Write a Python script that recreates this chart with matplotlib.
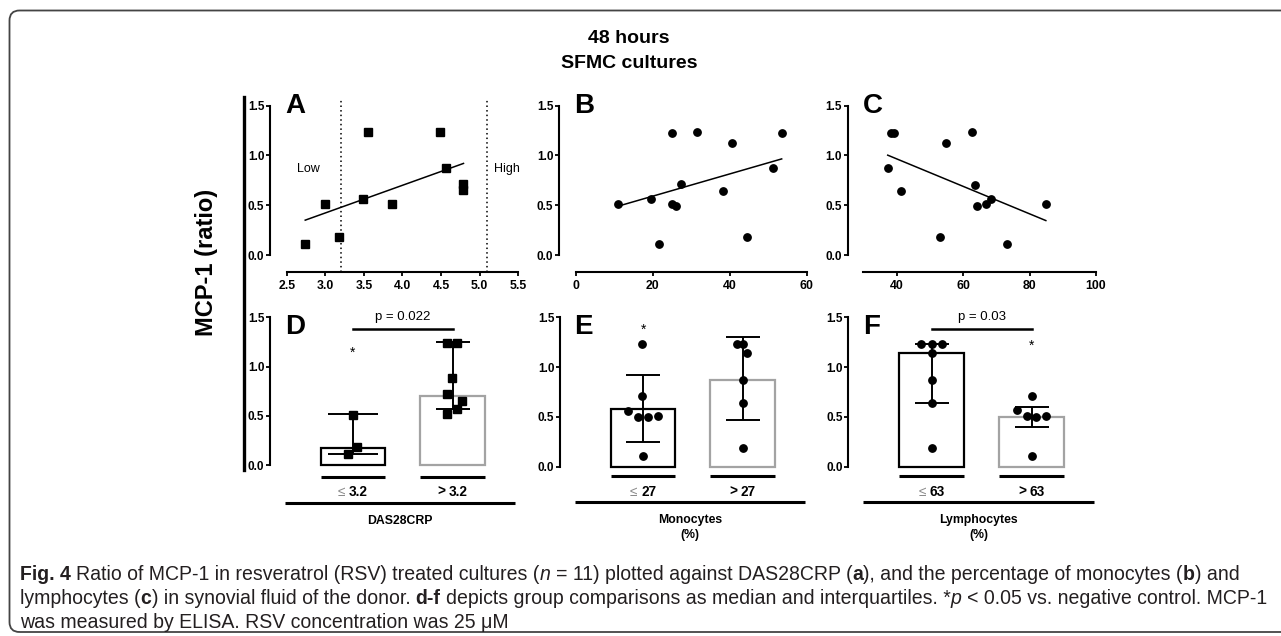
import numpy as np
import matplotlib
matplotlib.use("Agg")
import matplotlib.pyplot as plt
from matplotlib.patches import FancyBboxPatch
from matplotlib.transforms import IdentityTransform

plt.rcParams["font.family"] = ["Liberation Sans", "DejaVu Sans"]

# ---- data --------------------------------------------------------------
das_x = [2.74, 3.00, 3.18, 3.49, 3.55, 3.87, 4.48, 4.56, 4.79, 4.79]
das_y = [0.11, 0.51, 0.18, 0.56, 1.235, 0.51, 1.235, 0.873, 0.71, 0.65]

mono_x = [10.9, 19.6, 21.6, 25.0, 25.0, 26.1, 27.3, 31.4, 38.2, 40.7, 44.4, 51.3, 53.5]
mono_y = [0.51, 0.56, 0.11, 1.23, 0.51, 0.495, 0.71, 1.24, 0.64, 1.13, 0.18, 0.87, 1.23]

lymph_x = [37.3, 38.4, 39.3, 41.4, 53.0, 54.8, 62.8, 63.7, 64.1, 66.8, 68.4, 73.2, 84.9]
lymph_y = [0.87, 1.23, 1.23, 0.64, 0.18, 1.13, 1.235, 0.706, 0.495, 0.51, 0.56, 0.11, 0.51]

das_cut = [3.2, 5.1]

group_labels = {
    "D": ["≤ 3.2", "> 3.2"],
    "E": ["≤ 27", "> 27"],
    "F": ["≤ 63", "> 63"],
}
group_titles = {"D": "DAS28CRP", "E": "Monocytes\n(%)", "F": "Lymphocytes\n(%)"}

d_low = [0.51, 0.186, 0.107]
d_low_dx = [0.0, 0.044, -0.05]
d_high = [1.24, 1.24, 0.88, 0.72, 0.65, 0.566, 0.515]
d_high_dx = [-0.055, 0.045, -0.008, -0.055, 0.092, 0.045, -0.055]
d_median = [0.175, 0.70]
d_q1 = [0.109, 0.566]
d_q3 = [0.515, 1.247]

e_low = [1.232, 0.707, 0.559, 0.502, 0.496, 0.51, 0.104]
e_low_dx = [-0.009, -0.009, -0.153, -0.052, 0.051, 0.152, -0.002]
e_high = [1.235, 1.235, 1.14, 0.87, 0.64, 0.185]
e_high_dx = [-0.058, 0.0, 0.048, 0.0, 0.0, 0.0]
e_median = [0.58, 0.874]
e_q1 = [0.248, 0.47]
e_q3 = [0.924, 1.30]

f_low = [1.235, 1.235, 1.235, 1.14, 0.87, 0.64, 0.185]
f_low_dx = [-0.107, 0.0, 0.103, 0.0, 0.0, 0.0, 0.0]
f_high = [0.707, 0.57, 0.51, 0.496, 0.51, 0.107]
f_high_dx = [0.0, -0.148, -0.048, 0.048, 0.148, 0.0]
f_median = [1.138, 0.502]
f_q1 = [0.64, 0.40]
f_q3 = [1.235, 0.60]

# ---- figure -------------------------------------------------------------
W, H = 1281, 636
fig = plt.figure(figsize=(W / 100, H / 100), dpi=100)
renderer = fig.canvas.get_renderer()
ID = IdentityTransform()


def make_ax(box, xref, yref):
    x0, x1, ytop, ybot = box
    ax = fig.add_axes([x0 / W, 1 - ybot / H, (x1 - x0) / W, (ybot - ytop) / H])
    (px1, v1), (px2, v2) = xref
    sx = (v2 - v1) / (px2 - px1)
    ax.set_xlim(v1 + (x0 - px1) * sx, v1 + (x1 - px1) * sx)
    (py1, w1), (py2, w2) = yref
    sy = (w2 - w1) / (py2 - py1)
    ax.set_ylim(w1 + (ybot - py1) * sy, w1 + (ytop - py1) * sy)
    ax.patch.set_visible(False)
    for s in ["top", "right"]:
        ax.spines[s].set_visible(False)
    ax.spines["left"].set_linewidth(1.5)
    ax.spines["bottom"].set_linewidth(1.5)
    ax.spines["left"].set_bounds(0, 1.5)
    ax.set_yticks([0, 0.5, 1.0, 1.5])
    ax.set_yticklabels(["0.0", "0.5", "1.0", "1.5"])
    ax.tick_params(axis="y", length=3, width=1.3, pad=1, labelsize=8.5)
    for lab in ax.get_yticklabels():
        lab.set_fontweight("bold")
    return ax


def px_text(x, y, s, **kw):
    return fig.text(x, H - y, s, transform=ID, **kw)


def draw_runs(x, y, runs, size, family, ha="left"):
    probe1 = fig.text(0, 0, "a a", fontsize=size, family=family, transform=ID)
    probe2 = fig.text(0, 0, "aa", fontsize=size, family=family, transform=ID)
    sp = probe1.get_window_extent(renderer).width - probe2.get_window_extent(renderer).width
    probe1.remove()
    probe2.remove()
    items = []
    for s, kw in runs:
        lead = len(s) - len(s.lstrip(" "))
        trail = len(s) - len(s.rstrip(" "))
        t = fig.text(0, 0, s.strip(" "), fontsize=size, family=family,
                     transform=ID, va="baseline", ha="left", **kw)
        w = t.get_window_extent(renderer).width
        items.append((lead, t, w, trail))
    total = sum(l * sp + w + r * sp for l, t, w, r in items)
    cur = x if ha == "left" else x - total / 2
    for lead, t, w, trail in items:
        cur += lead * sp
        t.set_position((cur, H - y))
        cur += w + trail * sp
    return total, [it[1] for it in items]


# ---- frame and titles ---------------------------------------------------
fig.add_artist(FancyBboxPatch((9.5, 4), 1320, H - 14.5, transform=ID,
                              boxstyle="round,pad=0,rounding_size=10",
                              fc="none", ec="#444444", lw=1.3))
px_text(628.8, 42.7, "48 hours", ha="center", va="baseline", fontsize=14, weight="bold")
px_text(628.8, 68.3, "SFMC cultures", ha="center", va="baseline", fontsize=14, weight="bold")
px_text(206, 262, "MCP-1 (ratio)", rotation=90, ha="center", va="center",
        fontsize=17, weight="bold")
fig.add_artist(plt.Line2D([244, 244], [H - 97, H - 470], transform=ID, color="k", lw=2.4))

# ---- top row: scatter with regression -----------------------------------
yref_top = [(255, 0.0), (105.7, 1.5)]
scatter_specs = [
    ("A", das_x, das_y, "s", (270, 522), [(286.7, 2.5), (518.3, 5.5)], (2.5, 5.5),
     [2.5, 3.0, 3.5, 4.0, 4.5, 5.0, 5.5], ["2.5", "3.0", "3.5", "4.0", "4.5", "5.0", "5.5"]),
    ("B", mono_x, mono_y, "o", (559, 810), [(575.7, 0), (806.7, 60)], (0, 60),
     [0, 20, 40, 60], ["0", "20", "40", "60"]),
    ("C", lymph_x, lymph_y, "o", (847.7, 1100), [(896.7, 40), (1096, 100)], (30, 100),
     [40, 60, 80, 100], ["40", "60", "80", "100"]),
]
letter_x = {"A": 285, "B": 574, "C": 862.7, "D": 285, "E": 574, "F": 862.7}

for name, xs, ys, mk, (x0, x1), xref, xb, xt, xtl in scatter_specs:
    ax = make_ax((x0, x1, 98, 271.7), xref, yref_top)
    ax.spines["bottom"].set_bounds(*xb)
    ax.set_xticks(xt)
    ax.set_xticklabels(xtl)
    ax.tick_params(axis="x", length=3, width=1.3, pad=3, labelsize=8.8)
    for lab in ax.get_xticklabels():
        lab.set_fontweight("bold")
    ax.plot(xs, ys, mk, ms=5.3, color="k", clip_on=False, zorder=3)
    k, b = np.polyfit(xs, ys, 1)
    xl = np.array([min(xs), max(xs)])
    ax.plot(xl, k * xl + b, color="k", lw=1.1)
    if name == "A":
        for c in das_cut:
            ax.axvline(c, ymin=0, ymax=1, color="k", lw=1.1, ls=(0, (1, 2)))
        ax.text(2.63, 0.836, "Low", fontsize=9, va="baseline", ha="left")
        ax.text(5.19, 0.836, "High", fontsize=9, va="baseline", ha="left")
    px_text(letter_x[name], 93, name, fontsize=20, weight="bold", va="top", ha="left")

# ---- bottom row: median + IQR bars --------------------------------------
bar_specs = [
    ("D", "s", 270, [(352.9, 0), (452.5, 1)], [(465, 0.0), (317.3, 1.5)],
     [d_low, d_high], [d_low_dx, d_high_dx], d_median, d_q1, d_q3, [18, 12],
     477.3, 502.7, "p = 0.022", [(0, 1.18)]),
    ("E", "o", 560, [(643.2, 0), (742.5, 1)], [(466.7, 0.0), (317.3, 1.5)],
     [e_low, e_high], [e_low_dx, e_high_dx], e_median, e_q1, e_q3, [12, 12],
     475.7, 501.7, None, [(0, 1.41)]),
    ("F", "o", 848.3, [(931.7, 0), (1031.5, 1)], [(466.7, 0.0), (317.3, 1.5)],
     [f_low, f_high], [f_low_dx, f_high_dx], f_median, f_q1, f_q3, [12, 12],
     475.7, 501.7, "p = 0.03", [(1, 1.25)]),
]
edge_cols = ["k", "#a3a3a3"]
bw = 0.65

for (name, mk, x0, xref, yref, pts, dxs, med, q1, q3, caps,
     under_px, group_px, ptxt, stars) in bar_specs:
    ax = make_ax((x0, x0 + 252, 305, 515), xref, yref)
    ax.spines["bottom"].set_visible(False)
    ax.set_xticks([])
    sy = (yref[1][1] - yref[0][1]) / (yref[1][0] - yref[0][0])
    to_y = lambda p: yref[0][1] + (p - yref[0][0]) * sy
    for i in range(2):
        ax.bar(i, med[i], width=bw, fc="white", ec=edge_cols[i], lw=1.6, zorder=1)
        ax.errorbar(i, med[i], yerr=[[med[i] - q1[i]], [q3[i] - med[i]]], fmt="none",
                    ecolor="k", elinewidth=1.4, capsize=caps[i], capthick=1.4, zorder=2)
        ax.plot(np.array(dxs[i]) + i, pts[i], mk, ms=5.3, color="k", zorder=3, clip_on=False)
        ax.plot([i - bw / 2, i + bw / 2], [to_y(under_px)] * 2, color="k", lw=2.2,
                clip_on=False, solid_capstyle="butt")
        cx = xref[0][0] + i * (xref[1][0] - xref[0][0])
        lo, hi = group_labels[name][i].split(" ")
        sym_style = (dict(color="#8a8a8a") if lo == "≤"
                     else dict(weight="bold", color="k"))
        draw_runs(cx, 495.5, [(lo + " ", sym_style),
                              (hi, dict(weight="bold", color="k"))],
                  9.8, ["Liberation Sans", "DejaVu Sans"], ha="center")
    ax.plot([-0.685, 1.63], [to_y(group_px)] * 2, color="k", lw=2.2, clip_on=False,
            solid_capstyle="butt")
    gx = xref[0][0] + 0.47 * (xref[1][0] - xref[0][0])
    px_text(gx, 514.5, group_titles[name], ha="center", va="top", fontsize=8.8,
            weight="bold", linespacing=1.25)
    if ptxt:
        ax.plot([0, 1], [1.38, 1.38], color="k", lw=1.8, clip_on=False)
        ax.text(0.5, 1.50, ptxt, ha="center", va="center", fontsize=9.5, clip_on=False)
    for sx_, sy_ in stars:
        ax.annotate("*", (sx_, sy_), xytext=(0, -5.7), textcoords="offset points",
                    ha="center", va="baseline", fontsize=10)
    px_text(letter_x[name], 314, name, fontsize=20, weight="bold", va="top", ha="left")

# ---- caption ------------------------------------------------------------
cap_family = ["Liberation Sans Narrow", "DejaVu Sans Condensed", "Liberation Sans"]
R = dict(color="#231f20")
B = dict(color="#231f20", weight="bold")
I = dict(color="#231f20", style="italic")
line1 = [("Fig. 4", B), (" Ratio of MCP-1 in resveratrol (RSV) treated cultures (", R),
         ("n", I), (" = 11) plotted against DAS28CRP (", R), ("a", B),
         ("), and the percentage of monocytes (", R), ("b", B), (") and", R)]
line2 = [("lymphocytes (", R), ("c", B), (") in synovial fluid of the donor. ", R),
         ("d-f", B), (" depicts group comparisons as median and interquartiles. *", R),
         ("p", I), (" < 0.05 vs. negative control. MCP-1", R)]
line3 = [("was measured by ELISA. RSV concentration was 25 μM", R)]

w2, probes = draw_runs(-2000, -2000, line2, 12, cap_family)
for t in probes:
    t.remove()
cap_size = 12 * 1250 / w2
draw_runs(20, 580, line1, cap_size, cap_family)
draw_runs(20, 604, line2, cap_size, cap_family)
draw_runs(20, 628, line3, cap_size, cap_family)

fig.savefig("out.png", dpi=100)
